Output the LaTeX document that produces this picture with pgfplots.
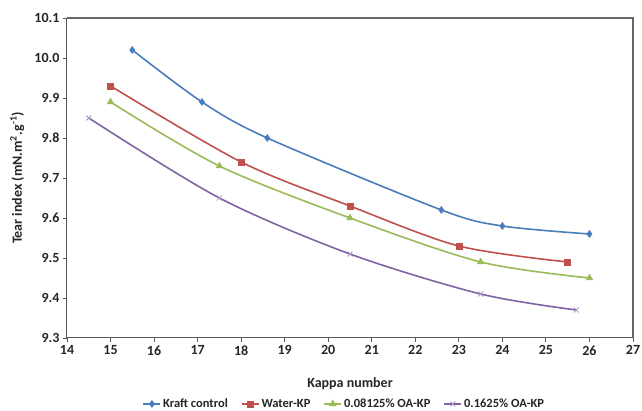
\documentclass[border=0pt]{standalone}
\usepackage{fontspec}
\setmainfont{Carlito}
\usepackage{pgfplots}
\pgfplotsset{compat=1.18}

\definecolor{kraft}{HTML}{4A7EBB}
\definecolor{water}{HTML}{C0504D}
\definecolor{oalow}{HTML}{9BBB59}
\definecolor{oahigh}{HTML}{8064A2}
\definecolor{axisgray}{HTML}{595959}

\begin{document}
\begin{tikzpicture}
\useasboundingbox (-67pt,-73pt) rectangle (575pt,338pt);
\begin{axis}[
    scale only axis,
    width=566pt, height=320pt,
    xmin=14, xmax=27, ymin=9.3, ymax=10.1,
    clip=false,
    axis lines*=left,
    xtick={14,15,...,27},
    ytick={9.3,9.4,...,10.1},
    axis line style={axisgray, line width=1pt, -},
    tick style={axisgray, line width=0.9pt},
    tick align=outside,
    major tick length=4pt,
    /pgf/number format/assume math mode=true,
    yticklabel style={/pgf/number format/.cd, fixed, fixed zerofill, precision=1},
    tick label style={font=\fontsize{14}{16}\selectfont\bfseries, text=black!85},
    xlabel={Kappa number},
    ylabel={Tear index (mN.m\textsuperscript{2}.g\textsuperscript{-1})},
    every axis x label/.style={at={(axis description cs:0.5,-0.144)}, anchor=center,
        font=\fontsize{14}{16}\selectfont\bfseries, text=black!85},
    every axis y label/.style={at={(axis description cs:-0.088,0.5)}, rotate=90, anchor=center,
        font=\fontsize{14}{16}\selectfont\bfseries, text=black!85},
    legend style={at={(axis description cs:0.49,-0.206)}, anchor=center, draw=none,
        font=\fontsize{12.5}{14}\selectfont\bfseries, text=black!85,
        /tikz/every even column/.append style={column sep=11pt}},
    legend columns=4,
    every axis plot/.append style={line width=1.6pt, smooth},
]
\addplot[color=kraft, mark=diamond*, mark size=3.5pt, mark options={solid, fill=kraft, line width=0.5pt}]
    coordinates {(15.5,10.02) (17.1,9.89) (18.6,9.80) (22.6,9.62) (24,9.58) (26,9.56)};
\addlegendentry{Kraft control}
\addplot[color=water, mark=square*, mark size=3pt, mark options={solid, fill=water, line width=0.5pt}]
    coordinates {(15,9.93) (18,9.74) (20.5,9.63) (23,9.53) (25.5,9.49)};
\addlegendentry{Water-KP}
\addplot[color=oalow, mark=triangle*, mark size=3.8pt, mark options={solid, fill=oalow, line width=0.5pt}]
    coordinates {(15,9.89) (17.5,9.73) (20.5,9.60) (23.5,9.49) (26,9.45)};
\addlegendentry{0.08125\% OA-KP}
\addplot[color=oahigh, mark=x, mark size=3.5pt, mark options={solid, draw=oahigh!70, line width=0.8pt}]
    coordinates {(14.5,9.85) (17.5,9.65) (20.5,9.51) (23.5,9.41) (25.7,9.37)};
\addlegendentry{0.1625\% OA-KP}
\end{axis}
\draw[black!60, line width=2pt] (0pt,320pt) -- (566pt,320pt) -- (566pt,0pt);
\end{tikzpicture}
\end{document}
